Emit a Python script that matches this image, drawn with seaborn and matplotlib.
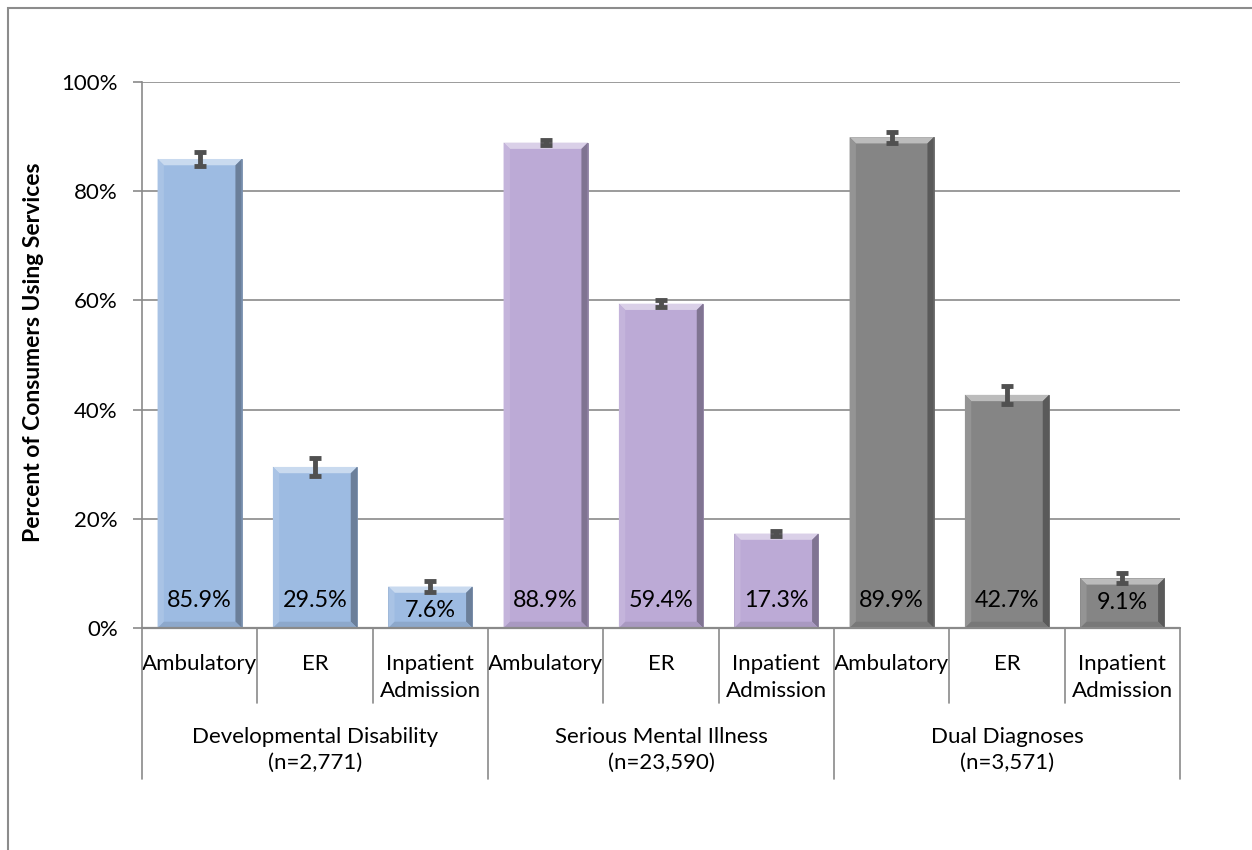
import numpy as np
import pandas as pd
import matplotlib
matplotlib.use("Agg")
import matplotlib.pyplot as plt
import matplotlib.transforms as mtransforms
from matplotlib.colors import to_rgb
from matplotlib.patches import Polygon, Rectangle
import seaborn as sns

# ---- data -------------------------------------------------------------
groups = ["Developmental Disability", "Serious Mental Illness", "Dual Diagnoses"]
group_sizes = ["(n=2,771)", "(n=23,590)", "(n=3,571)"]
services = ["Ambulatory", "ER", "Inpatient\nAdmission"]

dd_values = [85.9, 29.5, 7.6]
smi_values = [88.9, 59.4, 17.3]
dual_values = [89.9, 42.7, 9.1]

dd_errors = [1.3, 1.7, 1.0]
smi_errors = [0.4, 0.6, 0.5]
dual_errors = [1.0, 1.6, 0.9]

y_ticks = [0, 20, 40, 60, 80, 100]
y_ticklabels = ["0%", "20%", "40%", "60%", "80%", "100%"]

group_colors = ["#9DBBE2", "#BCAAD6", "#858585"]

# ---- tidy table -------------------------------------------------------
values = dd_values + smi_values + dual_values
errors = dd_errors + smi_errors + dual_errors
df = pd.DataFrame({
    "group": np.repeat(groups, len(services)),
    "service": services * len(groups),
    "value": values,
    "error": errors,
})
df["key"] = df["group"] + " | " + df["service"]

# ---- style ------------------------------------------------------------
sns.set_theme(style="white")
plt.rcParams["font.family"] = ["Lato", "DejaVu Sans"]
FS = 16
GRID = "#8A8A8A"
TEXT = "#000000"

fig = plt.figure(figsize=(12.52, 8.5), dpi=100)
W, H = 1252, 850
ax = fig.add_axes([142 / W, 1 - 628 / H, (1180 - 142) / W, (628 - 82) / H])

sns.barplot(data=df, x="key", y="value", hue="group", palette=group_colors,
            dodge=False, width=0.73, saturation=1, legend=False,
            linewidth=0, ax=ax, order=list(df["key"]))

ax.set_xlim(-0.5, len(df) - 0.5)
ax.set_ylim(0, 100)
ax.set_axisbelow(True)
ax.yaxis.grid(True, color=GRID, linewidth=1.2)
ax.xaxis.grid(False)
for side in ["top", "right", "bottom"]:
    ax.spines[side].set_visible(False)
ax.spines["left"].set_color(GRID)
ax.spines["left"].set_linewidth(1.2)
ax.axhline(0, color=GRID, linewidth=1.6, zorder=3, clip_on=False)

ax.set_yticks(y_ticks)
ax.set_yticklabels(y_ticklabels, fontsize=FS, color=TEXT)
ax.tick_params(axis="y", which="major", left=True, length=6.5, width=1.2,
               color=GRID, pad=11)
ax.set_xticks([])
ax.set_xlabel("")
ax.set_ylabel("")


def mix(c, other, t):
    a, b = np.array(to_rgb(c)), np.array(to_rgb(other))
    return tuple((1 - t) * a + t * b)


# bevelled look on every bar
bars = [p for p in ax.patches if isinstance(p, Rectangle) and p.get_height() > 0]
bars.sort(key=lambda p: p.get_x())
dx, dy = 0.055, 1.15
for p, color in zip(bars, np.repeat(group_colors, len(services))):
    x0, w, h = p.get_x(), p.get_width(), p.get_height()
    x1 = x0 + w
    p.set_edgecolor(mix(color, "black", 0.25))
    p.set_linewidth(0.6)
    faces = [
        ([(x0, h), (x1, h), (x1 - dx, h - dy), (x0 + dx, h - dy)], mix(color, "white", 0.45)),
        ([(x0, 0), (x0, h), (x0 + dx, h - dy), (x0 + dx, dy)], mix(color, "white", 0.12)),
        ([(x1, 0), (x1, h), (x1 - dx, h - dy), (x1 - dx, dy)], mix(color, "black", 0.32)),
        ([(x0, 0), (x1, 0), (x1 - dx, dy), (x0 + dx, dy)], mix(color, "black", 0.10)),
    ]
    for pts, fc in faces:
        ax.add_patch(Polygon(pts, closed=True, facecolor=fc, edgecolor="none", zorder=2.5))

positions = np.arange(len(df))
ax.errorbar(positions, df["value"], yerr=df["error"], fmt="none",
            ecolor="#505050", elinewidth=3.5, capsize=4.5, capthick=3.5, zorder=4)

# value labels near the base of each bar
label_y = np.minimum(5.1, df["value"].to_numpy() - 4.4)
for x, y, v in zip(positions, label_y, df["value"]):
    ax.text(x, y, f"{v:.1f}%", ha="center", va="center", fontsize=16.8,
            color=TEXT, zorder=5)

# category axis: service labels, group labels and separators
trans = mtransforms.blended_transform_factory(ax.transData, ax.transAxes)
to_ax = lambda px: -(px - 628) / 546
for x, svc in zip(positions, df["service"]):
    lines = svc.split("\n")
    for line, base in zip(lines, [670, 697]):
        ax.text(x, to_ax(base), line, transform=trans, ha="center",
                va="baseline", fontsize=FS, color=TEXT)

n_svc = len(services)
for gi, (g, n) in enumerate(zip(groups, group_sizes)):
    xc = gi * n_svc + (n_svc - 1) / 2
    ax.text(xc, to_ax(743), g, transform=trans, ha="center", va="baseline",
            fontsize=FS, color=TEXT)
    ax.text(xc, to_ax(769), n, transform=trans, ha="center", va="baseline",
            fontsize=FS, color=TEXT)

for b in np.arange(-0.5, len(df), 1.0):
    idx = int(round(b + 0.5))
    bottom = to_ax(779) if idx % n_svc == 0 else to_ax(703)
    ax.plot([b, b], [0, bottom], transform=trans, color=GRID, linewidth=1.2,
            clip_on=False, zorder=3)

fig.text(34 / W, 1 - 352 / H, "Percent of Consumers Using Services",
         rotation=90, ha="center", va="center", fontsize=16.5,
         fontweight="bold", color=TEXT)

# chart frame
fig.add_artist(Rectangle((8 / W, -0.1), 2.0, (H - 8) / H + 0.1,
                         transform=fig.transFigure, fill=False,
                         edgecolor="#8C8C8C", linewidth=1.5))

fig.savefig("out.png", dpi=100, facecolor="white")
